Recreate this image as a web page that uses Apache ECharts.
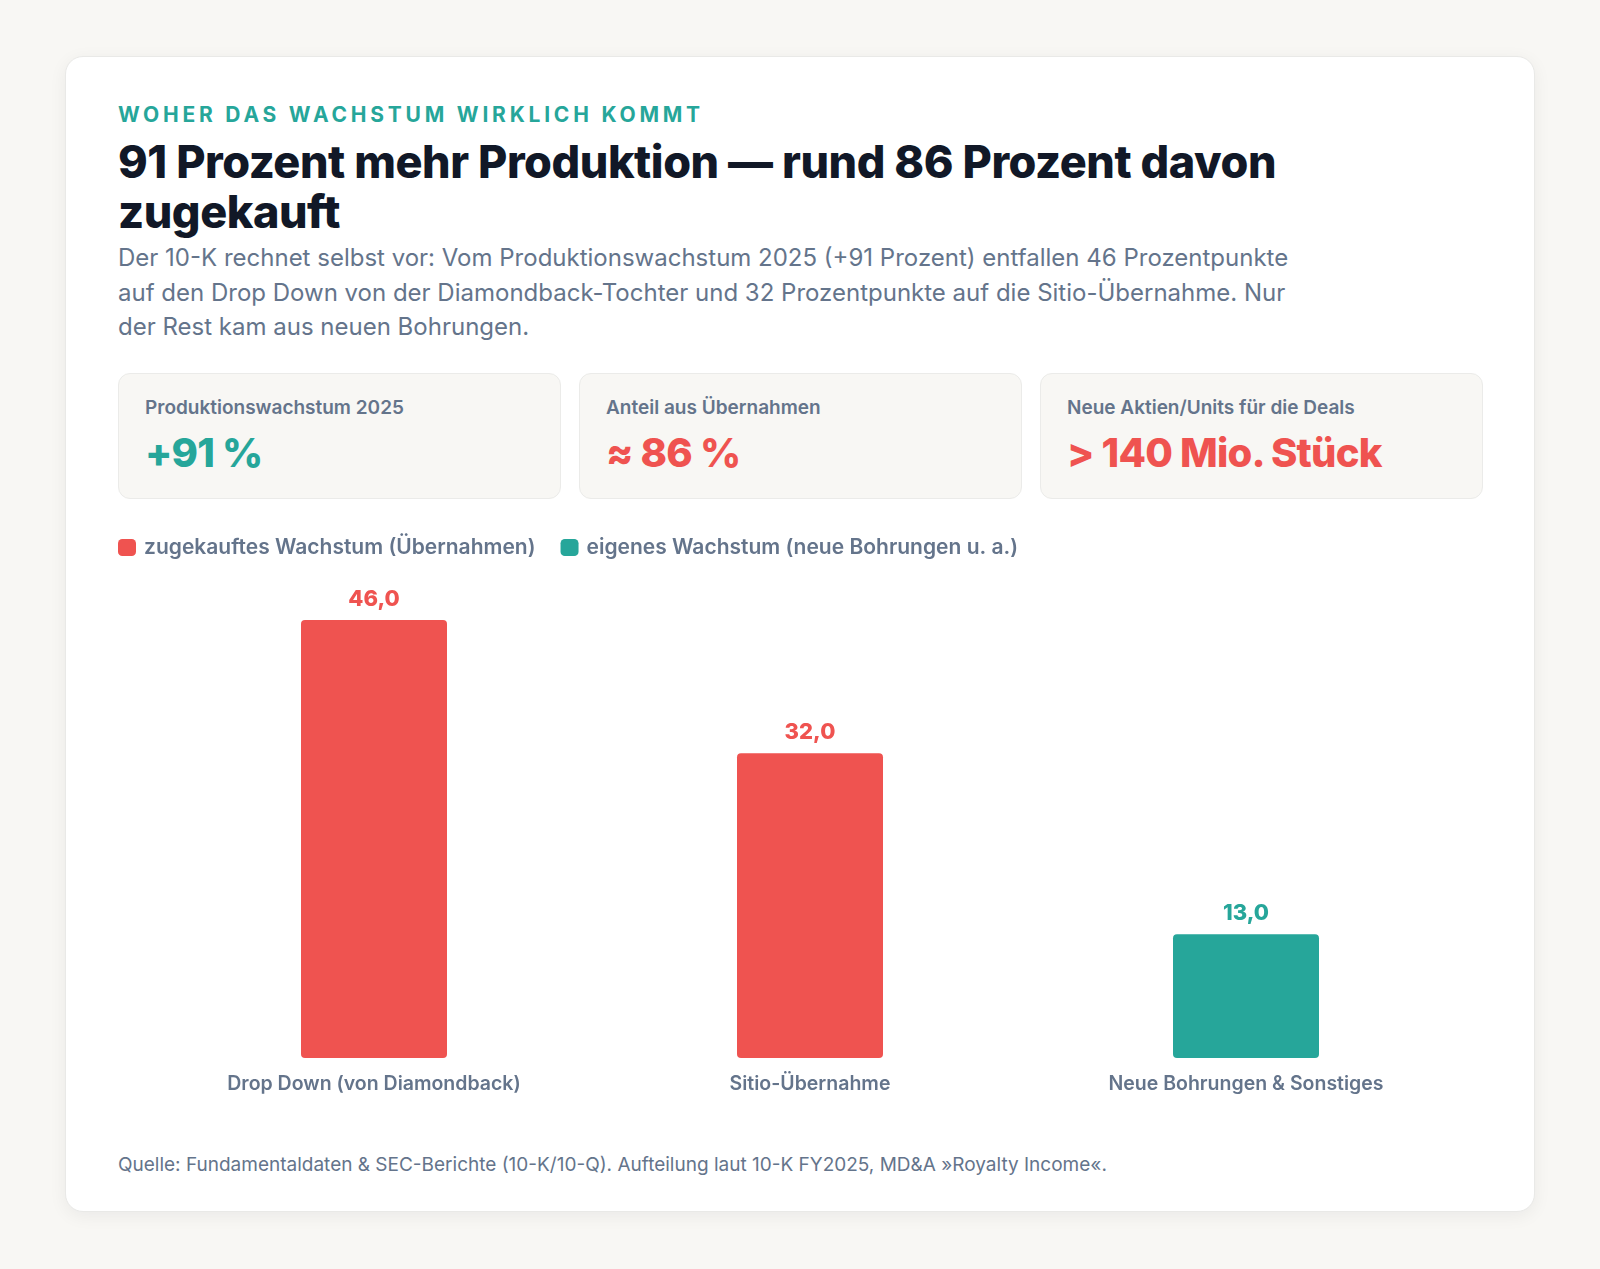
<!DOCTYPE html>
<html lang="de">
<head>
<meta charset="utf-8">
<title>Woher das Wachstum wirklich kommt</title>
<script src="https://cdn.jsdelivr.net/npm/echarts@6/dist/echarts.min.js"></script>
<style>
  html, body { margin: 0; padding: 0; }
  body {
    width: 1600px; height: 1269px;
    background: #f8f7f4;
    font-family: Inter, "Noto Sans", sans-serif;
    position: relative;
  }
  .card {
    position: absolute; left: 65px; top: 56px;
    width: 1470px; height: 1156px; box-sizing: border-box;
    background: #fff; border: 1px solid #e9e9e7; border-radius: 18px;
    box-shadow: 0 4px 18px rgba(20, 20, 40, 0.06);
  }
  .eyebrow {
    position: absolute; left: 52px; top: 45px;
    font-size: 21px; line-height: 1.2; font-weight: 700;
    letter-spacing: 0.18em; color: #26a69a;
  }
  h1 {
    position: absolute; left: 52px; top: 80px; margin: 0;
    font-size: 45px; line-height: 50px; font-weight: 800;
    letter-spacing: -0.01em; color: #111827;
  }
  .lead {
    position: absolute; left: 52px; top: 184px; margin: 0;
    font-size: 24px; line-height: 34.5px; color: #64748b;
  }
  .kpis {
    position: absolute; left: 52px; top: 316px; width: 1365px;
    display: grid; grid-template-columns: 1fr 1fr 1fr; gap: 18px;
  }
  .kpi {
    height: 126px; box-sizing: border-box; padding: 22px 26px;
    background: #f8f7f4; border: 1px solid #ebebe9; border-radius: 12px;
  }
  .kpi .label { font-size: 19px; line-height: 1.3; font-weight: 600; color: #64748b; }
  .kpi .value { margin-top: 10px; font-size: 40px; line-height: 1.1; font-weight: 800; letter-spacing: -0.02em; }
  .teal { color: #26a69a; }
  .red { color: #ef5350; }
  #chart { position: absolute; left: 52px; top: 464px; width: 1365px; height: 590px; }
  .source {
    position: absolute; left: 52px; top: 1095px;
    font-size: 19px; line-height: 1.4; color: #64748b;
  }
</style>
</head>
<body>
<div class="card">
  <div class="eyebrow">WOHER DAS WACHSTUM WIRKLICH KOMMT</div>
  <h1>91 Prozent mehr Produktion — rund 86 Prozent davon<br>zugekauft</h1>
  <p class="lead">Der 10-K rechnet selbst vor: Vom Produktionswachstum 2025 (+91 Prozent) entfallen 46 Prozentpunkte<br>auf den Drop Down von der Diamondback-Tochter und 32 Prozentpunkte auf die Sitio-Übernahme. Nur<br>der Rest kam aus neuen Bohrungen.</p>
  <div class="kpis">
    <div class="kpi"><div class="label">Produktionswachstum 2025</div><div class="value teal">+91 %</div></div>
    <div class="kpi"><div class="label">Anteil aus Übernahmen</div><div class="value red">≈ 86 %</div></div>
    <div class="kpi"><div class="label">Neue Aktien/Units für die Deals</div><div class="value red">&gt; 140 Mio. Stück</div></div>
  </div>
  <div id="chart"></div>
  <div class="source">Quelle: Fundamentaldaten &amp; SEC-Berichte (10-K/10-Q). Aufteilung laut 10-K FY2025, MD&amp;A »Royalty Income«.</div>
</div>

<script>
// Daten
var categories = ['Drop Down (von Diamondback)', 'Sitio-Übernahme', 'Neue Bohrungen & Sonstiges'];
var acquiredValues = [46, 32, null];   // zugekauft
var organicValues = [null, null, 13];  // eigene Bohrungen
var seriesNames = ['zugekauftes Wachstum (Übernahmen)', 'eigenes Wachstum (neue Bohrungen u. a.)'];

var RED = '#ef5350';
var TEAL = '#26a69a';
var SLATE = '#64748b';

function fmt(v) {
    return v.toFixed(1).replace('.', ',');
}

function barLabel(color) {
    return {
        show: true,
        position: 'top',
        distance: 10,
        color: color,
        fontSize: 22,
        fontWeight: 800,
        fontFamily: 'Inter',
        formatter: function (p) { return fmt(p.value); }
    };
}

var chart = echarts.init(document.getElementById('chart'));
chart.setOption({
    animation: false,
    textStyle: { fontFamily: 'Inter' },
    legend: {
        left: 0,
        top: 16,
        padding: 0,
        icon: 'roundRect',
        itemWidth: 18,
        itemHeight: 17,
        itemGap: 25,
        selectedMode: false,
        textStyle: { color: SLATE, fontSize: 21, fontWeight: 600, padding: [0, 0, 0, 3] },
        data: seriesNames
    },
    grid: { left: 38, right: 19, top: 61, bottom: 53 },
    xAxis: {
        type: 'category',
        data: categories,
        axisLine: { show: false },
        axisTick: { show: false },
        axisLabel: { color: SLATE, fontSize: 19.5, fontWeight: 600, margin: 16 }
    },
    yAxis: {
        type: 'value',
        min: 0,
        max: 50,
        show: false,
        splitLine: { show: false }
    },
    series: [
        {
            name: seriesNames[0],
            type: 'bar',
            stack: 'total',
            barWidth: 146,
            data: acquiredValues,
            itemStyle: { color: RED, borderRadius: 4 },
            label: barLabel(RED)
        },
        {
            name: seriesNames[1],
            type: 'bar',
            stack: 'total',
            barWidth: 146,
            data: organicValues,
            itemStyle: { color: TEAL, borderRadius: 4 },
            label: barLabel(TEAL)
        }
    ]
});

window.addEventListener('resize', function () {
    chart.resize();
});
</script>
</body>
</html>
